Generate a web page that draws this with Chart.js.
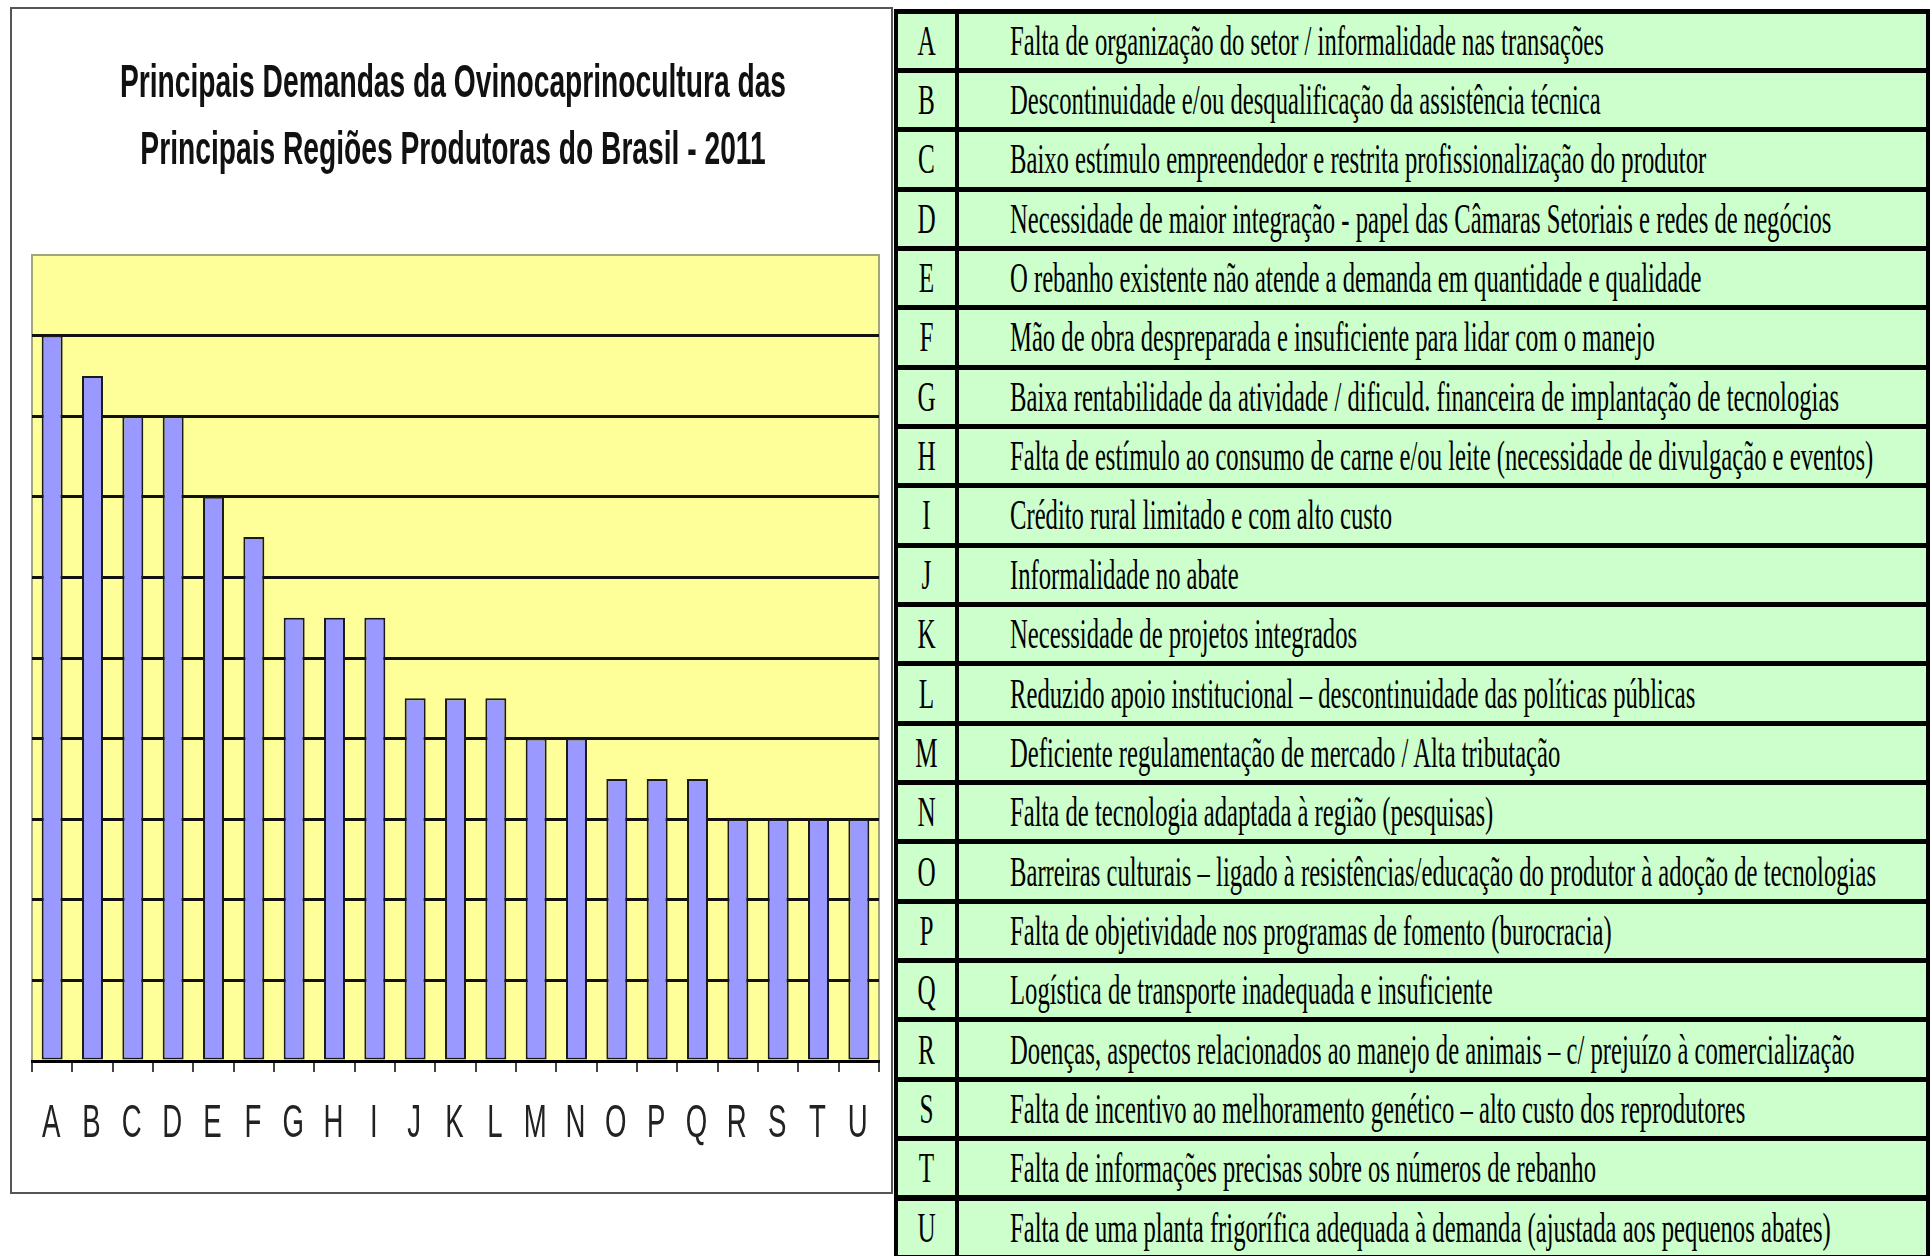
<!DOCTYPE html>
<html>
<head>
<meta charset="utf-8">
<script src="https://cdn.jsdelivr.net/npm/chart.js@4.4.1/dist/chart.umd.min.js"></script>
<style>
  html, body { margin: 0; padding: 0; background: #ffffff; width: 1932px; height: 1256px; overflow: hidden; }
  #panel { position: absolute; left: 10px; top: 7px; width: 879px; height: 1183px; border: 2px solid #555; background: #fff; }
  #chart { display: block; }
  #table { position: absolute; left: 894px; top: 9px; width: 1036px; height: 1250px; background: #000; }
  .cell { position: absolute; background: #ccffcc; overflow: visible; display: flex; align-items: center; }
  .txt { font-family: "Liberation Serif", "Times New Roman", serif; font-size: 42px; color: #000; white-space: nowrap; transform-origin: 0 50%; }
  .let { font-family: "Liberation Serif", "Times New Roman", serif; font-size: 42px; color: #000; white-space: nowrap; transform-origin: 50% 50%; width: 100%; text-align: center; }
</style>
</head>
<body>
<div id="panel"><canvas id="chart" width="879" height="1183"></canvas></div>
<div id="table"></div>
<script>
// ---- data ----
const categories = ["A","B","C","D","E","F","G","H","I","J","K","L","M","N","O","P","Q","R","S","T","U"];
const demandValues = [9, 8.5, 8, 8, 7, 6.5, 5.5, 5.5, 5.5, 4.5, 4.5, 4.5, 4, 4, 3.5, 3.5, 3.5, 3, 3, 3, 3];
const titleLines = ["Principais Demandas da Ovinocaprinocultura das", "Principais Regiões Produtoras do Brasil - 2011"];
const descriptions = [
  "Falta de organização do setor / informalidade nas transações",
  "Descontinuidade e/ou desqualificação da assistência técnica",
  "Baixo estímulo empreendedor e restrita profissionalização do produtor",
  "Necessidade de maior integração - papel das Câmaras Setoriais e redes de negócios",
  "O rebanho existente não atende a demanda em quantidade e qualidade",
  "Mão de obra despreparada e insuficiente para lidar com o manejo",
  "Baixa rentabilidade da atividade / dificuld. financeira de implantação de tecnologias",
  "Falta de estímulo ao consumo de carne e/ou leite (necessidade de divulgação e eventos)",
  "Crédito rural limitado e com alto custo",
  "Informalidade no abate",
  "Necessidade de projetos integrados",
  "Reduzido apoio institucional – descontinuidade das políticas públicas",
  "Deficiente regulamentação de mercado / Alta tributação",
  "Falta de tecnologia adaptada à região (pesquisas)",
  "Barreiras culturais – ligado à resistências/educação do produtor à adoção de tecnologias",
  "Falta de objetividade nos programas de fomento (burocracia)",
  "Logística de transporte inadequada e insuficiente",
  "Doenças, aspectos relacionados ao manejo de animais – c/ prejuízo à comercialização",
  "Falta de incentivo ao melhoramento genético – alto custo dos reprodutores",
  "Falta de informações precisas sobre os números de rebanho",
  "Falta de uma planta frigorífica adequada à demanda (ajustada aos pequenos abates)"
];

// ---- table (legend) ----
(function buildTable() {
  const tbl = document.getElementById('table');
  const rowH = 59.35, bw = 5;
  categories.forEach((c, i) => {
    const top = 2 + i * rowH + bw / 2;
    const h = rowH - bw;
    const l = document.createElement('div');
    l.className = 'cell';
    l.style.left = '4px'; l.style.top = top + 'px'; l.style.width = '57px'; l.style.height = h + 'px';
    const ls = document.createElement('div'); ls.className = 'let'; ls.textContent = c;
    ls.style.transform = 'scaleX(0.6)';
    l.appendChild(ls); tbl.appendChild(l);
    const t = document.createElement('div');
    t.className = 'cell';
    t.style.left = '65px'; t.style.top = top + 'px'; t.style.width = '967px'; t.style.height = h + 'px';
    const ts = document.createElement('div'); ts.className = 'txt'; ts.textContent = descriptions[i];
    ts.style.marginLeft = '51px';
    ts.style.transform = 'scaleX(0.587)';
    t.appendChild(ts); tbl.appendChild(t);
  });
})();

// ---- chart ----
const decorPlugin = {
  id: 'decor',
  beforeDraw(chart) {
    const {ctx, chartArea: a} = chart;
    ctx.save();
    ctx.fillStyle = '#ffff99';
    ctx.fillRect(a.left, a.top, a.right - a.left, a.bottom - a.top);
    ctx.strokeStyle = '#a5a57a';
    ctx.lineWidth = 2;
    ctx.strokeRect(a.left, a.top, a.right - a.left, a.bottom - a.top);
    ctx.restore();
  },
  afterDraw(chart) {
    const {ctx} = chart;
    ctx.save();
    // title
    ctx.fillStyle = '#111';
    ctx.font = 'bold 46px "Liberation Sans", Arial, sans-serif';
    ctx.textAlign = 'center';
    ctx.textBaseline = 'alphabetic';
    const sx = 0.613;
    const cx = 441;
    const baselines = [88, 155];
    titleLines.forEach((line, i) => {
      ctx.save();
      ctx.translate(cx, baselines[i]);
      ctx.scale(sx, 1);
      ctx.fillText(line, 0, 0);
      ctx.restore();
    });
    // category labels
    const xs = chart.scales.x;
    ctx.fillStyle = '#222';
    ctx.font = '46px "Liberation Sans", Arial, sans-serif';
    ctx.textBaseline = 'middle';
    categories.forEach((c, i) => {
      const x = xs.getPixelForValue(i) - 1;
      ctx.save();
      ctx.translate(x, 1115);
      ctx.scale(0.6, 1);
      ctx.fillText(c, 0, 0);
      ctx.restore();
    });
    ctx.restore();
  }
};

new Chart(document.getElementById('chart'), {
  type: 'bar',
  data: {
    labels: categories,
    datasets: [{
      data: demandValues,
      backgroundColor: '#9999ff',
      borderColor: '#1a1a1a',
      borderWidth: 2,
      borderSkipped: false,
      barPercentage: 0.52,
      categoryPercentage: 1.0
    }]
  },
  options: {
    responsive: false,
    animation: false,
    events: [],
    layout: { padding: { left: 20, right: 12, top: 246, bottom: 120 } },
    plugins: { legend: { display: false }, tooltip: { enabled: false }, title: { display: false } },
    scales: {
      x: {
        offset: true,
        grid: { display: true, offset: true, drawOnChartArea: false, drawTicks: true, tickLength: 11, color: '#444', lineWidth: 2 },
        border: { display: true, color: '#000', width: 3 },
        ticks: { display: false }
      },
      y: {
        min: 0, max: 10,
        ticks: { display: false, stepSize: 1 },
        grid: {
          drawTicks: false,
          color: (c) => (c.tick && (c.tick.value === 10)) ? 'rgba(0,0,0,0)' : '#111',
          lineWidth: 3
        },
        border: { display: false }
      }
    }
  },
  plugins: [decorPlugin]
});
</script>
</body>
</html>
